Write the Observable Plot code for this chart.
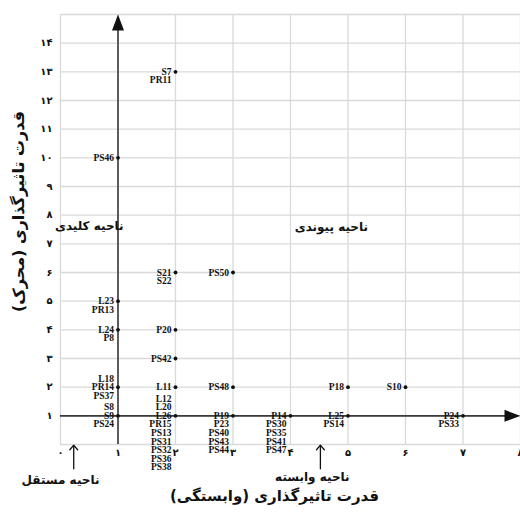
<!DOCTYPE html>
<html><head><meta charset="utf-8">
<script src="https://cdn.jsdelivr.net/npm/d3@7"></script>
<script src="https://cdn.jsdelivr.net/npm/@observablehq/plot@0.6"></script>
<style>
body{margin:0;background:#fff}
#chart svg{display:block}
.micmac g[aria-label="x-axis tick label"] text,
.micmac g[aria-label="y-axis tick label"] text{font-family:"DejaVu Sans",sans-serif;font-weight:bold;font-size:10px;fill:#111}
</style>
</head><body><div id="chart"></div>
<script>
// ---- data ----
const pointX = [2, 1, 2, 3, 1, 1, 2, 2, 1, 2, 3, 5, 6, 1, 2, 3, 4, 5, 7];
const pointY = [13, 10, 6, 6, 5, 4, 4, 3, 2, 2, 2, 2, 2, 1, 1, 1, 1, 1, 1];
const pointNames = [
  ["S7", "PR11"], ["PS46"], ["S21", "S22"], ["PS50"], ["L23", "PR13"], ["L24", "P8"], ["P20"], ["PS42"],
  ["L18", "PR14", "PS37"], ["L11"], ["PS48"], ["P18"], ["S10"],
  ["S8", "S9", "PS24"],
  ["L12", "L20", "L26", "PR15", "PS13", "PS31", "PS32", "PS36", "PS38"],
  ["P19", "P23", "PS40", "PS43", "PS44"],
  ["P14", "PS30", "PS35", "PS41", "PS47"],
  ["L25", "PS14"], ["P24", "PS33"]
];
// number of names stacked above each point
const namesAbove = [0, 0, 0, 0, 0, 0, 0, 0, 1, 0, 0, 0, 0, 1, 2, 0, 0, 0, 0];

const xTicks = [0, 1, 2, 3, 4, 5, 6, 7, 8];
const xTickLabels = ["۰", "۱", "۲", "۳", "۴", "۵", "۶", "۷", "۸"];
const yTicks = [1, 2, 3, 4, 5, 6, 7, 8, 9, 10, 11, 12, 13, 14];
const yTickLabels = ["۱", "۲", "۳", "۴", "۵", "۶", "۷", "۸", "۹", "۱۰", "۱۱", "۱۲", "۱۳", "۱۴"];

const xTitle = "قدرت تاثیرگذاری (وابستگی)";
const yTitle = "قدرت تاثیرگذاری (محرک)";
const regionNames = ["ناحیه کلیدی", "ناحیه پیوندی", "ناحیه مستقل", "ناحیه وابسته"];
const regionX = [0.5, 4.71, 0, 4.38];
const regionY = [7.62, 7.58, -1.26, -1.15];
const regionArrowX = [0.23, 4.52];

// ---- build ----
const points = pointX.map((x, i) => ({x, y: pointY[i]}));
const nameRows = [];
pointNames.forEach((list, i) => list.forEach((name, j) =>
  nameRows.push({x: pointX[i], y: pointY[i], name, k: j - namesAbove[i]})));
const ks = Array.from(new Set(nameRows.map(d => d.k))).sort((a, b) => a - b);
const lineStep = 8.6;

const triangleHead = {
  draw(context, l, r) {
    context.moveTo(0, -l);
    context.lineTo(r, 0);
    context.lineTo(-r, 0);
    context.closePath();
  }
};

const xMax = d3.max(xTicks);
const yMax = d3.max(yTicks) + 1;

const labelMarks = ks.map(k => Plot.text(nameRows.filter(d => d.k === k), {
  x: "x", y: "y", text: "name", textAnchor: "end", dx: -4, dy: k * lineStep,
  fontFamily: "Liberation Serif, Times New Roman, serif", fontWeight: "bold", fontSize: 9.5, fill: "#111"
}));

const plot = Plot.plot({
  width: 520, height: 519,
  marginLeft: 60, marginRight: 0, marginTop: 14, marginBottom: 75,
  className: "micmac",
  x: {domain: [0, xMax], label: null},
  y: {domain: [0, yMax], label: null},
  marks: [
    Plot.gridX(d3.range(0, xMax + 1), {stroke: "#d9d9d9", strokeOpacity: 1, strokeWidth: 1.3}),
    Plot.gridY(d3.range(0, yMax + 1), {stroke: "#d9d9d9", strokeOpacity: 1, strokeWidth: 1.3}),
    Plot.axisX({ticks: xTicks, tickFormat: d => xTickLabels[xTicks.indexOf(d)], tickSize: 0, tickPadding: 4}),
    Plot.axisY({ticks: yTicks, tickFormat: d => yTickLabels[yTicks.indexOf(d)], tickSize: 0, tickPadding: 8}),
    Plot.ruleX([1], {y1: 0, y2: yMax - 0.5, stroke: "#3a3a3a", strokeWidth: 1.6}),
    Plot.ruleY([1], {x1: 0, x2: xMax - 0.25, stroke: "#3a3a3a", strokeWidth: 1.6}),
    Plot.vector([{x: 1, y: yMax}], {x: "x", y: "y", length: 16, r: 6, rotate: 0, anchor: "end",
      shape: triangleHead, fill: "#111", stroke: "none"}),
    Plot.vector([{x: xMax, y: 1}], {x: "x", y: "y", length: 16, r: 6, rotate: 90, anchor: "end",
      shape: triangleHead, fill: "#111", stroke: "none"}),
    Plot.dot(points, {x: "x", y: "y", r: 1.9, fill: "#111", stroke: "none"}),
    ...labelMarks,
    Plot.arrow(regionArrowX, {x1: d => d, x2: d => d, y1: -0.85, y2: -0.02, stroke: "#111",
      strokeWidth: 1.3, headLength: 7, headAngle: 80}),
    Plot.text(regionNames, {x: (d, i) => regionX[i], y: (d, i) => regionY[i], textAnchor: "middle",
      fontFamily: "DejaVu Sans, sans-serif", fontWeight: "bold", fontSize: 12, fill: "#111"}),
    Plot.text([xTitle], {frameAnchor: "bottom", textAnchor: "middle", dx: -16, dy: 56,
      fontFamily: "DejaVu Sans, sans-serif", fontWeight: "bold", fontSize: 15, fill: "#111"}),
    Plot.text([yTitle], {frameAnchor: "left", textAnchor: "middle", rotate: -90, dx: -42, dy: -18,
      fontFamily: "DejaVu Sans, sans-serif", fontWeight: "bold", fontSize: 16, fill: "#111"})
  ]
});
document.getElementById("chart").appendChild(plot);
</script>
</body></html>
